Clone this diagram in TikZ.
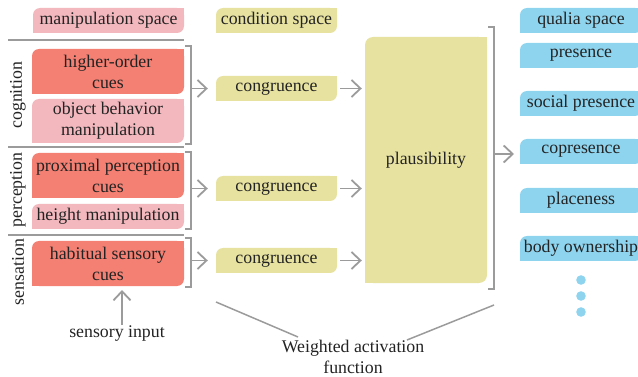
\documentclass[tikz,border=0pt]{standalone}
\usepackage{fontspec}
\setmainfont{Liberation Serif}
\usetikzlibrary{arrows.meta,backgrounds}
\definecolor{salmon}{RGB}{243,128,115}
\definecolor{pinkc}{RGB}{243,184,190}
\definecolor{khaki}{RGB}{231,226,160}
\definecolor{bluec}{RGB}{142,212,238}
\definecolor{grayl}{RGB}{155,155,155}
\definecolor{txt}{RGB}{35,35,35}
\tikzset{
  lbl/.style={inner sep=0pt, text=txt, font=\fontsize{17.8}{21}\selectfont, align=center},
  gline/.style={draw=grayl, line width=1.8pt},
  garrow/.style={gline, -{Straight Barb[length=9pt,width=17pt]}},
}
% \leafbox{x1}{y1}{x2}{y2}{color}{name}{text}
\newcommand{\leafbox}[7]{%
  \fill[#5, rounded corners=7pt] (#1,#2) rectangle (#3,#4);
  \fill[#5] (#3,#2) rectangle ({#3-8},{#2+8});
  \fill[#5] (#1,#4) rectangle ({#1+8},{#4-8});
  \node[lbl, minimum width={#3-#1}, minimum height={#4-#2}] (#6) at ({(#1+#3)/2},{(#2+#4)/2}) {#7};
}
\newcommand{\rbracket}[4]{% x, y1, y2, name
  \draw[gline] ({#1-6},#2) -- (#1,#2) -- (#1,#3) -- ({#1-6},#3);
  \coordinate (#4) at (#1,{(#2+#3)/2});
}
\begin{document}
\begin{tikzpicture}[x=1pt,y=-1pt]
\useasboundingbox (0,0) rectangle (638,377);
\clip (0,0) rectangle (638,377);
% left column
\leafbox{33}{8}{184}{33}{pinkc}{manip}{manipulation space}
\leafbox{32}{49}{184}{94}{salmon}{hoc}{higher-order\\cues}
\leafbox{32}{99}{184}{143}{pinkc}{obm}{object behavior\\manipulation}
\leafbox{32}{153}{184}{198}{salmon}{ppc}{proximal perception\\cues}
\leafbox{32}{204}{184}{229}{pinkc}{hm}{height manipulation}
\leafbox{32}{241}{184}{286}{salmon}{hsc}{habitual sensory\\cues}
% separators
\coordinate (s1a) at (8,40); \coordinate (s1b) at (184,40);
\coordinate (s2a) at (8,147); \coordinate (s2b) at (184,147);
\coordinate (s3a) at (8,235); \coordinate (s3b) at (184,235);
\draw[gline] (s1a) -- (s1b);
\draw[gline] (s2a) -- (s2b);
\draw[gline] (s3a) -- (s3b);
% level labels
\node[lbl, rotate=90] (cog) at (18,95) {cognition};
\node[lbl, rotate=90] (per) at (18,190) {perception};
\node[lbl, rotate=90] (sen) at (18,272) {sensation};
% brackets
\rbracket{191}{46}{144}{b1}
\rbracket{191}{152}{229}{b2}
\rbracket{191}{238}{287}{b3}
% condition column
\leafbox{216}{8}{337}{33}{khaki}{cond}{condition space}
\leafbox{216}{76}{337}{101}{khaki}{cg1}{congruence}
\leafbox{216}{176}{337}{201}{khaki}{cg2}{congruence}
\leafbox{216}{248}{337}{273}{khaki}{cg3}{congruence}
\draw[garrow] (b1 |- cg1.west) -- ([xshift=-8pt]cg1.west);
\draw[garrow] (b2 |- cg2.west) -- ([xshift=-8pt]cg2.west);
\draw[garrow] (b3 |- cg3.west) -- ([xshift=-8pt]cg3.west);
% plausibility
\fill[khaki, rounded corners=8pt] (365,37) rectangle (487,283);
\fill[khaki] (487,37) rectangle (478,46);
\fill[khaki] (365,283) rectangle (374,274);
\node[lbl, minimum width=122, minimum height=246] (pl) at (426,160) {};
\node[lbl] (pltext) at (426,160) {plausibility};
\draw[garrow] ([xshift=3pt]cg1.east) -- ([xshift=-3pt]pl.west |- cg1.east);
\draw[garrow] ([xshift=3pt]cg2.east) -- ([xshift=-3pt]pl.west |- cg2.east);
\draw[garrow] ([xshift=3pt]cg3.east) -- ([xshift=-3pt]pl.west |- cg3.east);
% big bracket
\rbracket{494}{27}{289}{bb}
% qualia column
\leafbox{520}{8}{642}{33}{bluec}{qs}{qualia space}
\leafbox{520}{43}{642}{68}{bluec}{q1}{presence}
\leafbox{520}{91}{642}{116}{bluec}{q2}{social presence}
\leafbox{520}{139}{642}{164}{bluec}{q3}{copresence}
\leafbox{520}{188}{642}{213}{bluec}{q4}{placeness}
\leafbox{520}{236}{642}{261}{bluec}{q5}{body ownership}
\coordinate (bbend) at (514,154);
\draw[garrow] (bb |- bbend) -- (bbend);
\fill[bluec] (581,280) circle (4.8);
\fill[bluec] (581,296) circle (4.8);
\fill[bluec] (581,312) circle (4.8);
% sensory input
\node[lbl] (si) at (117,334) {sensory input};
\coordinate (siS) at (122,325);
\coordinate (siE) at (122,290);
\draw[garrow] (siS) -- (siE);
% weighted activation function
\node[lbl] (waf) at (353,357) {Weighted activation\\function};
\coordinate (wl1) at (216,302); \coordinate (wl2) at (298,337);
\coordinate (wr1) at (494,305); \coordinate (wr2) at (407,340);
\draw[gline, line width=1.5pt] (wl1) -- (wl2);
\draw[gline, line width=1.5pt] (wr1) -- (wr2);
\end{tikzpicture}
\end{document}
